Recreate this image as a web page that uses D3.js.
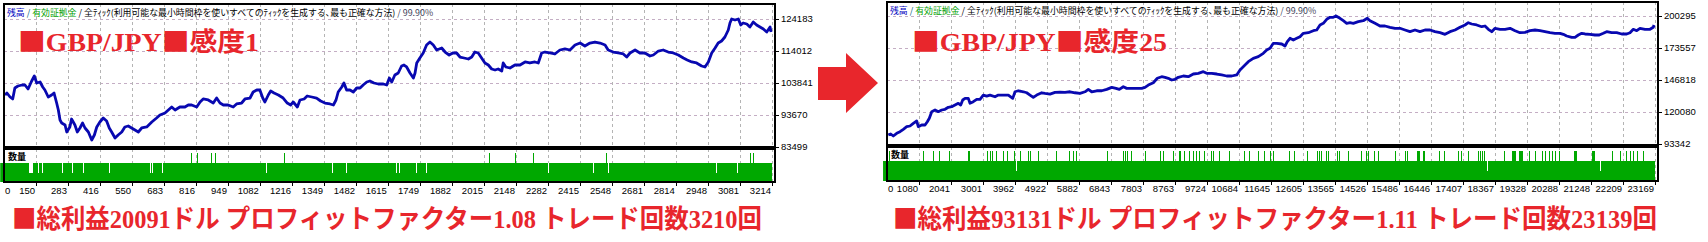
<!DOCTYPE html>
<html>
<head>
<meta charset="utf-8">
<script src="https://cdn.jsdelivr.net/npm/d3@7"></script>
<style>
  body { margin: 0; background: #fff; }
  svg { display: block; }
  .axis-label { font-family: "Liberation Sans", "DejaVu Sans", sans-serif; font-size: 9.5px; fill: #000; }
  .header { font-family: "Noto Sans CJK JP", sans-serif; font-size: 8.9px; }
  .big { font-family: "Liberation Serif", "Noto Sans CJK JP", serif; font-weight: bold; fill: #e8262c; }
  .sq { font-family: "Noto Sans CJK JP", sans-serif; font-weight: bold; }
</style>
</head>
<body>
<div id="chart"></div>
<script>
// ---- left test: GBP/JPY sensitivity 1 ----
const leftXTicks = [0, 150, 283, 416, 550, 683, 816, 949, 1082, 1216, 1349, 1482, 1615, 1749, 1882,
    2015, 2148, 2282, 2415, 2548, 2681, 2814, 2948, 3081, 3214];
const leftYTicks = [83499, 93670, 103841, 114012, 124183];
const leftTradeCount = 3210;
// [trade number, balance]
const leftEquity = [[21,100030],[29,100660],[42,99390],[53,98760],[62,102250],[75,102890],[92,103210],
    [104,103210],[117,101930],[132,104480],[143,106070],[153,103840],[167,104160],[178,102570],[187,101620],
    [201,99390],[215,100030],[225,100660],[236,97480],[243,95260],[250,92080],[257,91130],[271,90490],
    [278,88270],[291,89860],[298,92400],[312,90490],[322,88270],[333,89540],[344,91130],[354,89540],
    [368,88270],[382,85720],[393,87310],[403,89860],[416,91440],[430,92720],[444,91760],[455,89540],
    [465,88270],[479,86360],[492,87310],[507,88270],[520,89860],[534,90170],[548,89540],[562,88900],
    [576,88270],[590,89540],[611,89860],[632,91440],[652,92720],[666,93670],[687,94310],[701,95260],
    [715,96210],[729,95260],[749,96210],[770,96210],[784,96850],[798,96850],[819,96210],[833,97800],
    [846,98760],[867,98440],[888,97480],[902,99070],[916,97480],[930,96850],[950,96850],[971,96210],
    [985,97170],[1006,97480],[1020,98760],[1041,99070],[1054,100980],[1069,101620],[1082,101620],
    [1094,99070],[1103,97800],[1117,100030],[1127,101300],[1141,100660],[1159,100030],[1179,99070],
    [1196,97480],[1210,96850],[1221,97800],[1238,96210],[1249,98440],[1266,98760],[1279,99710],
    [1298,99390],[1318,99070],[1335,98120],[1353,97480],[1374,97170],[1388,96850],[1399,98440],
    [1408,100980],[1423,102570],[1432,103840],[1443,101620],[1457,101620],[1471,100980],[1485,102250],
    [1499,102250],[1512,103210],[1527,104160],[1540,104480],[1557,103840],[1575,103520],[1596,103520],
    [1610,103210],[1621,105430],[1631,104160],[1644,106380],[1658,107020],[1672,109240],[1682,109560],
    [1693,108930],[1707,107020],[1721,105430],[1728,107020],[1735,110200],[1748,111790],[1762,113380],
    [1776,115920],[1790,116870],[1804,115920],[1818,114330],[1839,114960],[1853,113690],[1870,112740],
    [1885,113380],[1901,113380],[1915,112100],[1932,111790],[1950,111470],[1964,112100],[1977,113690],
    [1991,113380],[2005,111790],[2019,110200],[2033,109560],[2047,108290],[2061,107970],[2074,108290],
    [2089,107660],[2095,110200],[2106,108930],[2123,108610],[2144,109560],[2165,109560],[2186,110520],
    [2206,110200],[2227,110520],[2241,110200],[2255,113380],[2269,113690],[2290,113380],[2310,113060],
    [2331,114330],[2352,114650],[2373,114330],[2394,115920],[2415,116550],[2435,115600],[2456,116550],
    [2477,116870],[2498,116550],[2519,115920],[2532,114330],[2553,113690],[2574,113380],[2595,113060],
    [2609,112100],[2623,113380],[2644,114330],[2664,113380],[2685,113380],[2706,112420],[2720,112740],
    [2741,114010],[2761,114330],[2782,113690],[2803,113380],[2824,112740],[2845,111790],[2861,111150],
    [2880,110520],[2900,110200],[2921,109240],[2935,108930],[2949,110520],[2963,113380],[2977,114960],
    [2990,116550],[3004,117190],[3018,118460],[3032,120690],[3039,122910],[3046,124180],[3060,123860],
    [3074,124180],[3084,122280],[3094,122910],[3109,122590],[3122,121640],[3136,123230],[3150,122280],
    [3164,121640],[3178,121000],[3192,120050],[3206,121640],[3210,120050]];
// trades with a smaller / larger lot than usual
const leftSmallLots = [124, 128, 132, 136, 160, 178, 261, 303, 347, 458, 627, 636, 677, 1110, 1385,
    1443, 1649, 1662, 1732, 1774, 2283, 2470, 2532, 2981, 3070];
const leftLargeLots = [798, 821, 881, 896, 1184, 2039, 2145, 2220, 2526, 3125, 3136];

// ---- right test: GBP/JPY sensitivity 25 ----
const rightXTicks = [0, 1080, 2041, 3001, 3962, 4922, 5882, 6843, 7803, 8763, 9724, 10684, 11645,
    12605, 13565, 14526, 15486, 16446, 17407, 18367, 19328, 20288, 21248, 22209, 23169];
const rightYTicks = [93342, 120080, 146818, 173557, 200295];
const rightTradeCount = 23139;
const rightEquity = [[159,100860],[231,101700],[309,100030],[411,102280],[510,103620],[609,105630],
    [711,107800],[810,108380],[909,110640],[1011,112560],[1059,107800],[1161,109220],[1261,109220],
    [1330,111980],[1390,114820],[1462,120330],[1561,121750],[1660,120330],[1762,121750],[1861,122340],
    [1960,124010],[2062,124510],[2161,125930],[2260,127350],[2332,125930],[2392,130110],[2461,131480],
    [2560,131480],[2611,127350],[2710,128690],[2812,130640],[2911,130640],[3010,134240],[3112,133400],
    [3211,134240],[3361,132820],[3461,134240],[3611,134240],[3761,134240],[3893,131480],[3962,136990],
    [4061,137830],[4211,136990],[4313,136160],[4412,134240],[4511,132310],[4613,134240],[4763,136160],
    [4862,135660],[5012,135070],[5162,136490],[5312,136740],[5462,136490],[5612,136990],[5762,136160],
    [5912,135660],[6062,136990],[6161,139000],[6263,136990],[6414,137830],[6564,137830],[6714,139000],
    [6864,140670],[6993,139830],[7092,139000],[7212,141170],[7314,139830],[7464,139830],[7614,139830],
    [7764,139830],[7863,140670],[7962,142590],[8112,144560],[8232,148240],[8364,149580],[8463,149080],
    [8562,148240],[8664,146820],[8764,147400],[8863,149080],[9013,150160],[9163,149580],[9313,151830],
    [9463,152420],[9613,153750],[9715,152420],[9865,152420],[10015,151830],[10165,151000],[10315,150160],
    [10465,150160],[10615,151000],[10714,155170],[10864,159350],[10963,162110],[11113,164950],
    [11263,166290],[11413,169130],[11516,171890],[11615,173310],[11714,177480],[11816,177480],
    [11966,176900],[12065,175230],[12134,178820],[12215,181660],[12314,180240],[12416,181660],
    [12515,183000],[12614,185840],[12764,186340],[12914,188010],[13016,188600],[13115,192780],
    [13214,194200],[13316,197540],[13415,199210],[13514,199210],[13595,200300],[13715,198370],
    [13814,196370],[13916,194200],[14015,194700],[14114,194200],[14264,195530],[14414,196370],
    [14535,198370],[14616,196370],[14766,194200],[14916,191940],[15066,191940],[15216,190850],
    [15366,190020],[15516,190020],[15666,188600],[15816,187180],[15966,188600],[16116,187180],
    [16266,188600],[16417,188600],[16566,187180],[16717,186340],[16867,185000],[17017,187180],
    [17167,188600],[17317,190850],[17467,192780],[17566,194700],[17668,193610],[17818,192780],
    [17968,191350],[18067,191940],[18167,189180],[18269,187180],[18368,190020],[18518,189180],
    [18668,189180],[18818,190020],[18968,188010],[19118,186340],[19268,186680],[19418,188010],
    [19568,188600],[19718,188010],[19868,187180],[20018,186340],[20168,185840],[20318,185840],
    [20417,185000],[20519,183580],[20669,182500],[20768,182500],[20867,184420],[20969,185840],
    [21068,185260],[21218,185000],[21368,184420],[21497,184420],[21617,185840],[21719,187180],
    [21869,186340],[22019,186340],[22169,185260],[22319,185260],[22419,186340],[22518,189180],
    [22620,188010],[22719,190020],[22869,189180],[23019,189180],[23118,190850],[23139,192780]];
const rightSmallLots = [4001, 18131, 21541];
const rightLargeLots = [189, 1209, 1530, 1689, 1989, 2571, 2601, 3141, 3211, 3291, 3391, 3621, 3751,
    3951, 4131, 4361, 4431, 4681, 5211, 5611, 5711, 5821, 6731, 7211, 7271, 7341, 7461, 7891, 8331,
    8431, 8711, 8911, 8941, 9061, 9211, 9331, 9411, 9491, 9661, 9861, 9931, 10091, 10391, 10861, 10991,
    11261, 11441, 11641, 11711, 12191, 12361, 12731, 13031, 13091, 13151, 13311, 13371, 13641, 13691,
    13961, 14361, 14511, 14561, 14761, 14881, 15371, 15681, 15731, 16050, 16080, 16110, 16231, 16261,
    16711, 16851, 17271, 17361, 17561, 17881, 17931, 17991, 18041, 18641, 18891, 18921, 18951, 18981,
    19101, 19131, 19161, 19191, 19401, 19591, 19791, 19881, 19991, 20091, 20181, 20301, 20751, 20781,
    20811, 21281, 21311, 21341, 21881, 22141, 22311, 22431, 22531, 22651, 22811];

// lot sizes in the volume pane
const smallLot = 0.01, baseLot = 0.02, largeLot = 0.03;

const headerParts = [
    ["残高", "#0000c0"], [" / ", "#006080"], ["有効証拠金", "#00a000"], [" / ", "#000"],
    ["全ﾃｨｯｸ(利用可能な最小時間枠を使いすべてのﾃｨｯｸを生成する､最も正確な方法)", "#000"],
    [" / 99.90%", "#404058"]
];
// captions split so the square marks can use a font that draws them full size
const titles = [["■", "GBP/JPY", "■", "感度1"], ["■", "GBP/JPY", "■", "感度25"]];
const summaries = [["■", "総利益20091ドル プロフィットファクター1.08 トレード回数3210回"],
    ["■", "総利益93131ドル プロフィットファクター1.11 トレード回数23139回"]];

const width = 1708, height = 242;
const red = "#e8262c", green = "#00a800", blue = "#0808b0";

const svg = d3.select("#chart").append("svg")
    .attr("width", width)
    .attr("height", height);

const panels = [
    {id: "l", x0: 4, top: 4, bottom: 147, gridTop: 19, gridBottom: 147, vTop: 149, vBottom: 182,
     xTicks: leftXTicks, yTicks: leftYTicks, equity: leftEquity, count: leftTradeCount,
     small: leftSmallLots, large: leftLargeLots, title: titles[0], titleX: 18, titleW: 241,
     summary: summaries[0], sumX: 12, sumW: 750},
    {id: "r", x0: 887, top: 2, bottom: 145, gridTop: 16, gridBottom: 144, vTop: 147, vBottom: 181,
     xTicks: rightXTicks, yTicks: rightYTicks, equity: rightEquity, count: rightTradeCount,
     small: rightSmallLots, large: rightLargeLots, title: titles[1], titleX: 912, titleW: 255,
     summary: summaries[1], sumX: 893, sumW: 764}
];
const plotW = 771;

panels.forEach(p => {
    const x = d3.scaleLinear()
        .domain([p.xTicks[1], p.xTicks[p.xTicks.length - 1]])
        .range([p.x0 + 32, p.x0 + 768]);
    const y = d3.scaleLinear()
        .domain([p.yTicks[0], p.yTicks[p.yTicks.length - 1]])
        .range([p.gridBottom, p.gridTop]);
    const v = d3.scaleLinear()
        .domain([0, largeLot])
        .range([p.vTop + 34, p.vTop + 4]);

    const g = svg.append("g");

    g.append("clipPath").attr("id", "clip-" + p.id)
        .append("rect")
        .attr("x", p.x0 + 1).attr("y", p.top + 1)
        .attr("width", plotW - 2).attr("height", p.bottom - p.top - 2);

    // grid
    g.selectAll(".hgrid")
        .data(p.yTicks.slice(1))
        .join("line")
        .attr("x1", p.x0).attr("x2", p.x0 + plotW)
        .attr("y1", d => Math.round(y(d)) + 0.5).attr("y2", d => Math.round(y(d)) + 0.5)
        .attr("stroke", "#c4aec4").attr("stroke-dasharray", "3,3");

    const vx = d => Math.round(x(d)) + 0.5;
    [[p.top, p.bottom], [p.vTop, p.vBottom]].forEach(([a, b]) => {
        g.selectAll(null)
            .data(p.xTicks.slice(1))
            .join("line")
            .attr("x1", vx).attr("x2", vx)
            .attr("y1", a).attr("y2", b)
            .attr("stroke", "#b4b4b4").attr("stroke-dasharray", "3,3");
    });

    // volume pane
    g.append("rect")
        .attr("x", x(1)).attr("y", v(baseLot))
        .attr("width", x(p.count) - x(1) + 1)
        .attr("height", p.vBottom - v(baseLot))
        .attr("fill", green);
    g.selectAll(".small")
        .data(p.small)
        .join("rect")
        .attr("x", d => Math.floor(x(d))).attr("width", 1)
        .attr("y", v(baseLot)).attr("height", v(smallLot) - v(baseLot))
        .attr("fill", "#fff");
    g.selectAll(".large")
        .data(p.large)
        .join("rect")
        .attr("x", d => Math.floor(x(d))).attr("width", 1)
        .attr("y", v(largeLot)).attr("height", v(baseLot) - v(largeLot))
        .attr("fill", green);

    // balance line
    g.append("path")
        .datum(p.equity)
        .attr("clip-path", `url(#clip-${p.id})`)
        .attr("fill", "none")
        .attr("stroke", blue)
        .attr("stroke-width", 2.8)
        .attr("stroke-linejoin", "round")
        .attr("d", d3.line().x(d => x(d[0])).y(d => y(d[1])));

    // frames
    [[p.top, p.bottom], [p.vTop, p.vBottom]].forEach(([a, b]) => {
        g.append("rect")
            .attr("x", p.x0).attr("y", a)
            .attr("width", plotW).attr("height", b - a)
            .attr("fill", "none").attr("stroke", "#000").attr("stroke-width", 2);
    });

    // y axis on the right
    const right = p.x0 + plotW;
    g.selectAll(".ytick")
        .data(p.yTicks)
        .join("line")
        .attr("x1", right).attr("x2", right + 4)
        .attr("y1", d => Math.round(y(d)) + 0.5).attr("y2", d => Math.round(y(d)) + 0.5)
        .attr("stroke", "#000");
    g.selectAll(".ylab")
        .data(p.yTicks)
        .join("text")
        .attr("class", "axis-label")
        .attr("x", right + 6)
        .attr("y", d => y(d))
        .attr("dy", "0.36em")
        .text(d => d);

    // x axis below the volume pane
    g.selectAll(".xtick")
        .data(p.xTicks.slice(1))
        .join("line")
        .attr("x1", vx).attr("x2", vx)
        .attr("y1", p.vBottom).attr("y2", p.vBottom + 4)
        .attr("stroke", "#000");
    g.selectAll(".xlab")
        .data(p.xTicks)
        .join("text")
        .attr("class", "axis-label")
        .attr("x", (d, i) => i === 0 ? p.x0 + 1 : x(d) - 1)
        .attr("text-anchor", (d, i) => i === 0 ? "start" : "end")
        .attr("y", p.vTop + 42)
        .attr("dy", "0.36em")
        .text(d => d);

    g.append("text")
        .attr("x", p.x0 + 4).attr("y", p.vTop + 11)
        .style("font-family", "Noto Sans CJK JP").style("font-size", "9px").style("font-weight", "bold")
        .text("数量");

    // header line
    const h = g.append("text")
        .attr("class", "header")
        .attr("x", p.x0 + 3).attr("y", p.top + 12);
    headerParts.forEach(([t, c]) => h.append("tspan").attr("fill", c).text(t));

    // red captions
    const t = g.append("text")
        .attr("class", "big")
        .attr("x", p.titleX).attr("y", 50.5)
        .style("font-size", "26px")
        .attr("textLength", p.titleW)
        .attr("lengthAdjust", "spacingAndGlyphs");
    p.title.forEach(s => t.append("tspan").attr("class", s === "■" ? "sq" : null).text(s));

    const s = g.append("text")
        .attr("class", "big")
        .attr("x", p.sumX).attr("y", 228)
        .style("font-size", "26px")
        .attr("textLength", p.sumW)
        .attr("lengthAdjust", "spacingAndGlyphs");
    p.summary.forEach(str => s.append("tspan").attr("class", str === "■" ? "sq" : null).text(str));
});

// arrow between the two tests
svg.append("path")
    .attr("d", "M818,67 H846 V53 L878,83 L846,113 V100 H818 Z")
    .attr("fill", red);
</script>
</body>
</html>
